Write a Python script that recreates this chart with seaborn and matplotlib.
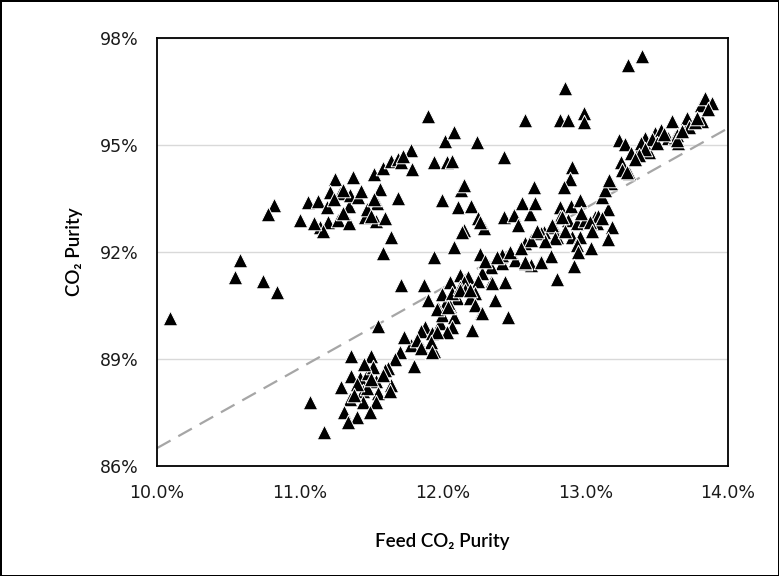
import matplotlib
matplotlib.use("Agg")
import matplotlib.pyplot as plt
import seaborn as sns
import pandas as pd
from matplotlib.ticker import PercentFormatter, MultipleLocator

# Feed CO2 purity (%) and product CO2 purity (%)
feed_purity = [
    10.09, 10.58, 10.55, 10.74, 10.84, 10.82, 10.78,
    11.00, 11.06, 11.13, 11.19, 11.14, 11.20, 11.25, 11.21, 11.28, 11.27, 11.345, 11.345,
    11.37, 11.35, 11.41, 11.46, 11.52, 11.56, 11.54, 11.535, 11.60, 11.585, 11.64, 11.69,
    11.71, 11.79, 11.64, 11.58, 11.69, 11.16, 11.30, 11.43, 11.47, 11.50, 11.30, 11.52,
    11.24, 11.10,
    11.94, 12.03, 12.00, 11.90, 12.02, 11.78, 11.72, 12.08, 12.24, 12.07, 12.43, 12.58,
    12.11, 12.20, 12.13, 12.15, 12.25, 12.15, 12.29, 12.26, 12.14, 12.08, 11.94, 12.26,
    12.43, 12.50, 12.53, 12.56, 12.61, 12.64, 12.65, 12.91, 12.89, 12.85, 12.82, 12.90,
    12.96, 12.88, 12.94, 12.82, 12.78, 12.71, 12.80, 12.91, 12.96, 12.94, 13.04, 13.00,
    13.08, 13.07, 13.16, 13.19, 13.16, 13.12, 13.18, 13.14, 12.97, 12.84, 13.09, 13.03,
    12.77, 12.79, 12.95, 12.76, 12.69, 12.92, 12.80, 12.62, 12.58, 12.58, 12.69, 12.51,
    12.42, 12.41, 12.34, 12.34, 12.44, 12.46, 12.22, 12.27, 12.12, 12.28, 12.18, 12.05,
    12.37, 12.58, 12.69, 12.42,
    12.30, 12.38, 12.47, 12.55, 12.62, 12.72, 12.66, 12.86, 13.05, 13.12, 12.25, 12.15,
    12.10, 12.02, 11.98, 11.88, 11.78, 11.70,
    13.25, 13.31, 13.26, 13.24, 13.28, 13.37, 13.42, 13.45, 13.49, 13.53, 13.58, 13.63,
    13.65, 13.61, 13.72, 13.82, 13.39, 13.47, 13.64, 13.71, 13.73, 13.81, 13.84, 13.89,
    13.77, 13.42, 13.38, 13.32, 13.29, 13.17, 13.64, 12.86, 12.82, 12.88, 12.99, 12.99,
    13.30, 13.40, 13.35, 13.50, 13.55, 13.68, 13.78, 13.86,
    11.71, 11.87, 11.90, 11.97, 12.00, 12.05, 12.07, 12.12, 12.16, 12.23, 12.19, 12.35,
    12.21, 12.00, 12.08, 12.07, 12.03, 11.55, 11.73, 11.85, 11.93, 11.82, 11.86, 11.94,
    11.80, 11.36, 11.50, 11.67, 11.62, 11.60, 11.535, 11.64, 11.42, 11.48, 11.29, 11.36,
    11.51, 11.55, 11.44, 11.47, 11.35, 11.44, 11.535, 11.49, 11.31, 11.40, 11.34, 11.07,
    11.17, 11.96, 12.04, 12.12, 12.19, 12.23, 12.28, 11.96, 11.92, 11.85, 11.93, 11.45,
    11.40, 11.58, 11.50, 11.38, 11.63,
]
product_purity = [
    90.14, 91.78, 91.31, 91.20, 90.89, 93.32, 93.07,
    92.90, 93.41, 93.44, 93.25, 92.71, 92.85, 94.06, 93.68, 93.65, 92.90, 92.80, 93.28,
    94.11, 93.60, 93.55, 92.98, 94.19, 93.76, 93.37, 92.88, 92.94, 94.35, 94.54, 94.62,
    94.53, 94.32, 92.42, 91.96, 93.51, 92.60, 93.75, 93.72, 93.20, 93.00, 93.10, 93.50,
    93.50, 92.80,
    94.53, 94.53, 93.46, 95.80, 95.10, 94.85, 94.70, 95.37, 95.09, 94.56, 94.67, 95.70,
    93.27, 93.29, 93.74, 93.88, 92.95, 92.62, 92.66, 92.85, 92.57, 92.15, 91.87, 91.94,
    92.99, 93.04, 92.76, 93.37, 93.07, 93.81, 93.38, 94.38, 94.04, 93.81, 93.25, 93.28,
    93.46, 92.90, 92.80, 92.99, 92.71, 92.57, 92.43, 92.43, 92.43, 92.20, 92.11, 92.90,
    92.80, 92.99, 93.20, 92.71, 92.37, 93.54, 93.93, 93.74, 93.10, 92.99, 93.01, 92.85,
    92.76, 92.38, 92.01, 91.90, 91.76, 91.60, 91.23, 91.64, 91.68, 92.24, 92.52, 91.78,
    91.68, 91.88, 91.59, 91.15, 91.17, 90.18, 90.84, 90.29, 91.36, 91.40, 91.31, 91.17,
    90.65, 91.73, 91.73, 91.92,
    91.75, 91.85, 92.00, 92.10, 92.35, 92.30, 92.60, 92.60, 92.60, 92.95, 91.20, 91.15,
    90.70, 90.55, 90.00, 89.90, 89.40, 89.20,
    94.53, 94.21, 94.30, 95.14, 95.04, 94.77, 95.21, 94.81, 95.33, 95.42, 95.21, 95.23,
    95.05, 95.67, 95.56, 95.66, 95.05, 95.16, 95.28, 95.75, 95.51, 96.12, 96.31, 96.17,
    95.65, 94.90, 94.72, 94.77, 94.25, 94.02, 95.14, 96.59, 95.70, 95.70, 95.91, 95.65,
    97.25, 97.50, 94.60, 95.05, 95.30, 95.40, 95.75, 96.00,
    91.07, 91.07, 90.65, 90.42, 90.81, 90.48, 90.84, 91.03, 90.94, 90.84, 90.70, 91.12,
    89.81, 90.23, 90.19, 89.91, 89.77, 89.92, 89.63, 89.78, 89.72, 89.53, 89.30, 89.23,
    88.81, 89.07, 89.07, 88.99, 88.74, 88.69, 88.37, 88.27, 88.47, 88.60, 88.22, 88.51,
    88.77, 88.05, 88.09, 88.18, 87.87, 87.80, 87.79, 87.52, 87.52, 87.37, 87.22, 87.80,
    86.96, 90.39, 90.47, 90.94, 90.94, 90.51, 90.30, 89.77, 89.49, 89.30, 89.21, 88.85,
    88.30, 88.55, 88.45, 88.00, 88.10,
]
y_ticks = [86, 89, 92, 95, 98]

# dashed reference line
line_x = [10.0, 14.0]
line_y = [86.5, 95.47]

df = pd.DataFrame({"feed": feed_purity, "product": product_purity})

sns.set_style("white")
fig = plt.figure(figsize=(7.79, 5.76), dpi=100)
ax = fig.add_axes([0.2015, 0.191, 0.733, 0.743])

sns.lineplot(x=line_x, y=line_y, ax=ax, color="#a6a6a6", linewidth=1.6,
             zorder=2).lines[0].set_dashes([7, 4])
sns.scatterplot(data=df, x="feed", y="product", ax=ax, marker="^", s=110,
                color="black", edgecolor="white", linewidth=0.7, zorder=3)

ax.set_xlim(10, 14)
ax.set_ylim(86, 98)
ax.xaxis.set_major_locator(MultipleLocator(1))
ax.set_yticks(y_ticks)
ax.yaxis.set_minor_locator(MultipleLocator(1))
ax.xaxis.set_major_formatter(PercentFormatter(100, decimals=1))
ax.yaxis.set_major_formatter(PercentFormatter(100, decimals=0))

ax.grid(axis="y", which="major", color="#d9d9d9", linewidth=1.0, zorder=0)
ax.set_axisbelow(True)
for sp in ax.spines.values():
    sp.set_color("black")
    sp.set_linewidth(1.3)

ax.tick_params(axis="both", which="both", direction="in", length=5, width=1.2,
               color="black", labelsize=12.5, pad=13, top=False, right=False)
ax.tick_params(axis="both", which="major", labelcolor="#1a1a1a")

lab_font = dict(family=["Lato", "DejaVu Sans"], size=13.5, color="black",
                weight="semibold")
ax.set_xlabel("Feed CO₂ Purity", labelpad=22, **lab_font)
ax.set_ylabel("CO₂ Purity", labelpad=12, **lab_font)

fig.patch.set_edgecolor("black")
fig.patch.set_linewidth(2)
fig.savefig("out.png", dpi=100, facecolor="white", edgecolor="black")
